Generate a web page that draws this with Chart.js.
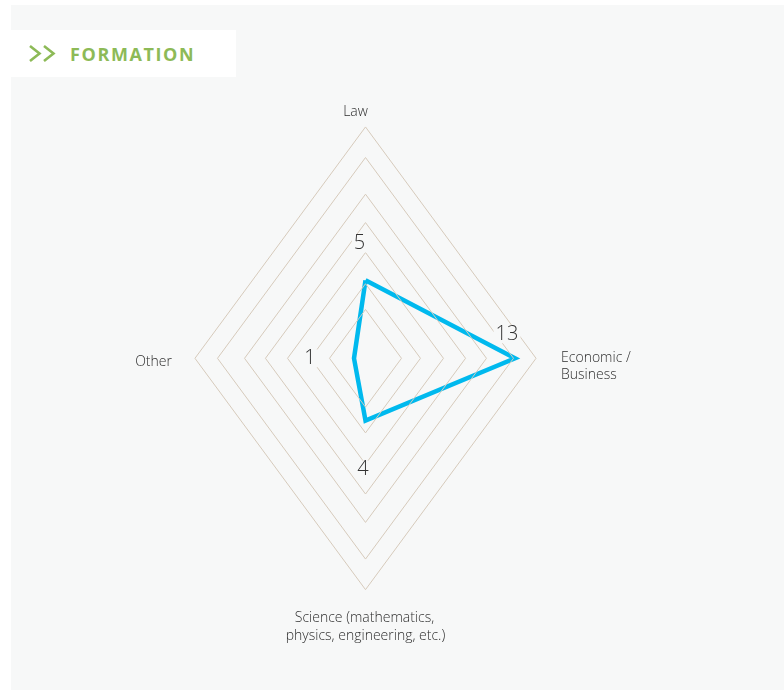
<!DOCTYPE html>
<html>
<head>
<meta charset="utf-8">
<script src="https://cdn.jsdelivr.net/npm/chart.js@4"></script>
<style>
  html, body { margin: 0; padding: 0; background: #fff; }
  body { width: 784px; height: 693px; position: relative; overflow: hidden; font-family: "Open Sans", sans-serif; }
  #panel { position: absolute; left: 11px; top: 5px; width: 773px; height: 685px; background: #f7f8f8; }
  #titleBox { position: absolute; left: 11px; top: 30px; width: 225px; height: 47px; background: #fff; }
  #titleBox span { position: absolute; left: 59px; top: 12px; font-weight: 700; font-size: 18px; letter-spacing: 1.6px; color: #8dba57; }
  #chevrons { position: absolute; left: 0; top: 0; }
  #chart { position: absolute; left: 0; top: 0; }
</style>
</head>
<body>
<div id="panel"></div>
<div id="titleBox"><span>FORMATION</span></div>
<svg id="chevrons" width="70" height="70">
  <polyline points="30,46 39.5,53.5 30,61" fill="none" stroke="#8dba57" stroke-width="2.6"/>
  <polyline points="44,46 53.5,53.5 44,61" fill="none" stroke="#8dba57" stroke-width="2.6"/>
</svg>
<canvas id="chart" width="784" height="693"></canvas>

<script>
// ---------------- DADOS ----------------
const categorias = ["Law", "Economic / Business", "Science (mathematics, physics, engineering, etc.)", "Other"];
const valores = [5, 13, 4, 1];
const aneis = [3.13, 4.78, 6.78, 8.7, 10.52, 12.87, 14.83];

// direção de cada eixo (topo, direita, baixo, esquerda)
const direcoes = [[0, 1], [1, 0], [0, -1], [-1, 0]];

// linhas de texto dos rótulos
const linhasRotulos = [
  ["Law"],
  ["Economic /", "Business"],
  ["Science (mathematics,", "physics, engineering, etc.)"],
  ["Other"]
];

const corFundo = "#f7f8f8";

// ---------------- ANÉIS + SÉRIE ----------------
const datasetsAneis = aneis.map(n => ({
  data: [...direcoes, direcoes[0]].map(d => ({ x: d[0] * n, y: d[1] * n })),
  showLine: true,
  borderColor: "#d6cabb",
  borderWidth: 1,
  pointRadius: 0,
  tension: 0
}));

const datasetSerie = {
  data: [...valores, valores[0]].map((v, i) => {
    const d = direcoes[i % 4];
    return { x: d[0] * v, y: d[1] * v };
  }),
  showLine: true,
  borderColor: "#00b9ee",
  borderWidth: 4.5,
  borderJoinStyle: "miter",
  pointRadius: 0,
  tension: 0
};

// ---------------- RÓTULOS ----------------
const offsetsValores = [[-6, -37], [-8, -24], [-2.5, 49], [-44, 0]];

const pluginRotulos = {
  id: "rotulos",
  afterDatasetsDraw(chart) {
    const ctx = chart.ctx;
    const sx = chart.scales.x;
    const sy = chart.scales.y;
    ctx.save();

    // valores
    ctx.font = "300 20px 'Open Sans'";
    ctx.textAlign = "center";
    ctx.textBaseline = "middle";
    valores.forEach((v, i) => {
      const d = direcoes[i];
      const px = sx.getPixelForValue(d[0] * v) + offsetsValores[i][0];
      const py = sy.getPixelForValue(d[1] * v) + offsetsValores[i][1];
      const w = ctx.measureText(String(v)).width;
      ctx.fillStyle = corFundo;
      ctx.fillRect(px - w / 2 - 2, py - 9, w + 4, 18);
      ctx.fillStyle = "#333";
      ctx.fillText(String(v), px, py);
    });

    // categorias
    const max = aneis[aneis.length - 1];
    ctx.font = "300 14px 'Open Sans'";
    ctx.fillStyle = "#2e2e2e";
    ctx.textBaseline = "alphabetic";

    const top = { x: sx.getPixelForValue(0), y: sy.getPixelForValue(max) };
    const dir = { x: sx.getPixelForValue(max), y: sy.getPixelForValue(0) };
    const baixo = { x: sx.getPixelForValue(0), y: sy.getPixelForValue(-max) };
    const esq = { x: sx.getPixelForValue(-max), y: sy.getPixelForValue(0) };

    ctx.textAlign = "center";
    ctx.fillText(linhasRotulos[0][0], top.x - 10, top.y - 11);

    ctx.textAlign = "left";
    ctx.fillText(linhasRotulos[1][0], dir.x + 25, dir.y + 3.4);
    ctx.fillText(linhasRotulos[1][1], dir.x + 25, dir.y + 21);

    ctx.textAlign = "center";
    ctx.fillText(linhasRotulos[2][0], baixo.x - 1, baixo.y + 32);
    ctx.fillText(linhasRotulos[2][1], baixo.x, baixo.y + 50.5);

    ctx.textAlign = "right";
    ctx.fillText(linhasRotulos[3][0], esq.x - 23, esq.y + 7.7);

    ctx.restore();
  }
};

// ---------------- GRÁFICO ----------------
new Chart(
  document.getElementById("chart"),
  {
    type: "scatter",
    data: {
      labels: categorias,
      datasets: [...datasetsAneis, datasetSerie]
    },
    options: {
      responsive: false,
      animation: false,
      layout: { padding: 0 },
      scales: {
        x: { display: false, min: -365.5 / 11.5, max: (784 - 365.5) / 11.5 },
        y: { display: false, min: -(693 - 358.3) / 15.6, max: 358.3 / 15.6 }
      },
      plugins: {
        legend: { display: false },
        tooltip: { enabled: false }
      }
    },
    plugins: [pluginRotulos]
  }
);
</script>
</body>
</html>
